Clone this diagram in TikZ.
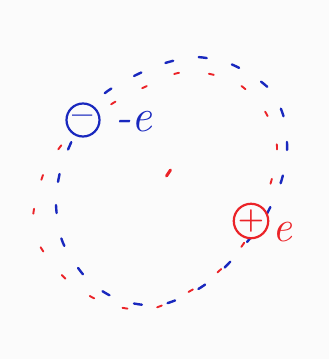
\documentclass[tikz,border=0pt]{standalone}
\definecolor{penblue}{RGB}{25,40,190}
\definecolor{penred}{RGB}{235,35,40}
\definecolor{paper}{RGB}{251,251,251}
\tikzset{
  orbitblue/.style={draw=penblue, line width=2.4pt, line cap=round, dash pattern=on 8pt off 26pt},
  orbitred/.style={draw=penred, line width=1.9pt, line cap=round, dash pattern=on 5pt off 30pt, dash phase=16pt},
  charge/.style={circle, line width=2.2pt, minimum size=33pt, inner sep=0pt, fill=paper},
  lbl/.style={inner sep=0pt, font=\itshape}
}
\begin{document}
\begin{tikzpicture}[x=1pt,y=-1pt]
\fill[paper] (0,0) rectangle (329,359);
\useasboundingbox (0,0) rectangle (329,359);
% blue orbit
\draw[orbitblue] plot[smooth cycle] coordinates {(60,172) (56,205) (63,243) (88,280) (120,300) (160,305) (200,288) (230,262) (262,222) (280,185) (287,152) (284,118) (272,92) (253,76) (228,63) (195,57) (162,64) (132,77) (105,93) (85,115) (70,145)};
% red orbit
\draw[orbitred] plot[smooth cycle] coordinates {(43,175) (33,230) (60,273) (88,295) (118,307) (155,308) (205,282) (235,255) (255,225) (267,195) (274,170) (277,147) (273,128) (262,107) (240,85) (210,74) (178,73) (147,86) (120,99) (92,117) (68,137)};
% centre
\draw[penred, line width=3pt, line cap=round] (166.5,176) -- (170.5,170);
% charges
\node[charge, draw=penblue, text=penblue] (neg) at (83,120) {\fontsize{36}{36}\selectfont\bfseries --};
\node[lbl, text=penblue] (negl) at (134,122) {\fontsize{46}{46}\selectfont -e};
\node[charge, draw=penred, text=penred] (pos) at (251,221) {\fontsize{30}{30}\selectfont\bfseries +};
\node[lbl, text=penred] (posl) at (282,232) {\fontsize{44}{44}\selectfont e};
\end{tikzpicture}
\end{document}
